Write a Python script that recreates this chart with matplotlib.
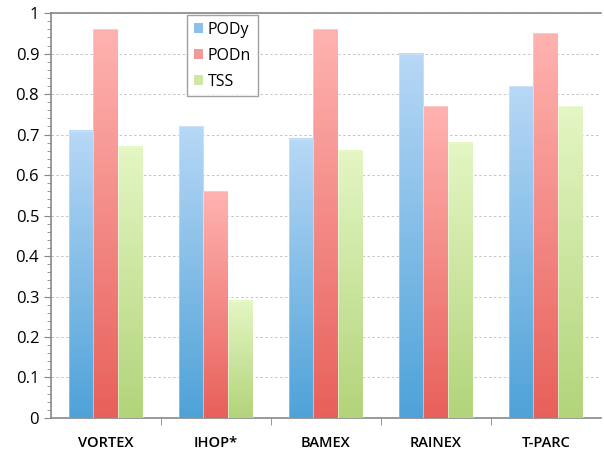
import numpy as np
import matplotlib
matplotlib.use('Agg')
import matplotlib.pyplot as plt
import matplotlib.patches as mpatches
from matplotlib.colors import LinearSegmentedColormap
from matplotlib.ticker import MultipleLocator

plt.rcParams['font.family'] = ['Open Sans', 'DejaVu Sans']

categories = ["VORTEX", "IHOP*", "BAMEX", "RAINEX", "T-PARC"]
series_names = ["PODy", "PODn", "TSS"]
pody = [0.71, 0.72, 0.69, 0.90, 0.82]
podn = [0.96, 0.56, 0.96, 0.77, 0.95]
tss = [0.67, 0.29, 0.66, 0.68, 0.77]
yticks = [0, 0.1, 0.2, 0.3, 0.4, 0.5, 0.6, 0.7, 0.8, 0.9, 1]

# bottom colour, top colour for each series
grad_colors = [("#4ea2d8", "#b8d8f6"),
               ("#e8605a", "#ffb3b1"),
               ("#b2d47a", "#e4f6c4")]
legend_colors = ["#8cc0ea", "#f49a96", "#cfe7a4"]

fig = plt.figure(figsize=(6.04, 4.53), dpi=100)
fig.patch.set_facecolor('white')
ax = fig.add_axes([0.0844, 0.0773, 0.9106, 0.8937])

x = np.arange(len(categories))
width = 0.227
grad = np.linspace(0, 1, 256).reshape(-1, 1)

for i, vals in enumerate([pody, podn, tss]):
    cmap = LinearSegmentedColormap.from_list("g%d" % i, grad_colors[i])
    for xi, v in zip(x, vals):
        x0 = xi + (i - 1.5) * width
        ax.imshow(grad, cmap=cmap, origin='lower', aspect='auto',
                  extent=[x0, x0 + width, 0, v], zorder=3)
        ax.add_patch(mpatches.Rectangle((x0, 0), width, v, facecolor='none',
                                        edgecolor='white', linewidth=0.4,
                                        alpha=0.5, zorder=4))

ax.set_xlim(-0.5, len(categories) - 0.5)
ax.set_ylim(0, 1)
ax.set_yticks(yticks)
ax.set_yticklabels(["%g" % t for t in yticks], fontsize=12)
ax.yaxis.set_minor_locator(MultipleLocator(0.02))
ax.tick_params(axis='y', which='major', length=5, color='#888888')
ax.tick_params(axis='y', which='minor', length=3, color='#888888')

ax.set_xticks(x)
ax.set_xticklabels(categories, fontsize=10.5, fontweight='semibold')
ax.tick_params(axis='x', which='major', length=0, pad=13)
ax.set_xticks(np.arange(0.5, len(categories) - 0.5, 1), minor=True)
ax.tick_params(axis='x', which='minor', length=5, color='#888888')

ax.yaxis.grid(True, linestyle=(0, (2.5, 2.5)), color='#c4c4c4', linewidth=0.7)
ax.set_axisbelow(True)
for s in ['left', 'bottom', 'top']:
    ax.spines[s].set_color('#888888')
    ax.spines[s].set_linewidth(1.2)
ax.spines['right'].set_visible(False)

handles = [mpatches.Patch(facecolor=c, edgecolor='none', label=n)
           for c, n in zip(legend_colors, series_names)]
leg = ax.legend(handles=handles, loc='upper left',
                bbox_to_anchor=(0.247, 0.995), fontsize=11.5,
                frameon=True, fancybox=False, handlelength=0.6,
                handleheight=0.6, handletextpad=0.3, labelspacing=0.62,
                borderpad=0.42, borderaxespad=0)
leg.get_frame().set_edgecolor('#888888')
leg.get_frame().set_linewidth(1.0)

plt.savefig('out.png', dpi=100, facecolor='white')
